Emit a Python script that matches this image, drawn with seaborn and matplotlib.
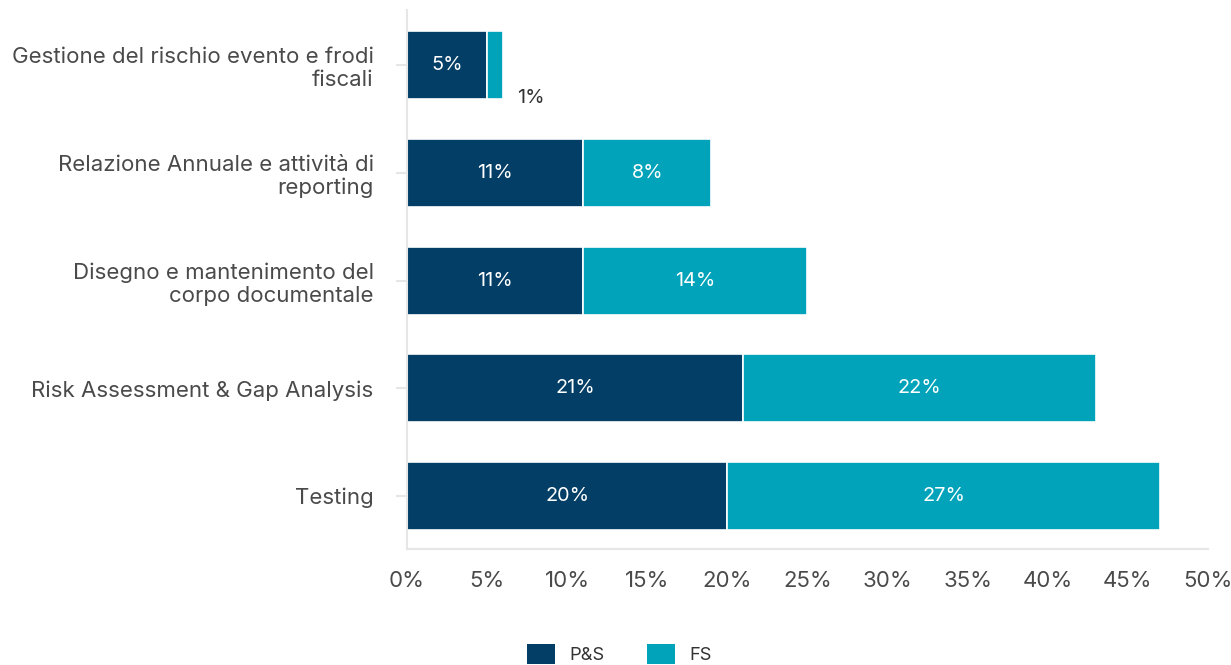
import matplotlib
matplotlib.use("Agg")
import matplotlib.pyplot as plt
from matplotlib.patches import Patch
import seaborn as sns
import pandas as pd

# Categories (top to bottom) and the two stacked series, in percent
categories = [
    "Gestione del rischio evento e frodi\nfiscali",
    "Relazione Annuale e attività di\nreporting",
    "Disegno e mantenimento del\ncorpo documentale",
    "Risk Assessment & Gap Analysis",
    "Testing",
]
ps_values = [5, 11, 11, 21, 20]
fs_values = [1, 8, 14, 22, 27]
series_names = ["P&S", "FS"]
x_ticks = [0, 5, 10, 15, 20, 25, 30, 35, 40, 45, 50]

colors = {"P&S": "#033E66", "FS": "#00A3B9"}

sns.set_theme(style="white")
plt.rcParams["font.family"] = ["Inter", "DejaVu Sans"]

df = pd.DataFrame({"category": categories, "P&S": ps_values, "FS": fs_values})

fig = plt.figure(figsize=(12.31, 6.65), dpi=100)
ax = fig.add_axes([0.3306, 0.1744, 0.6507, 0.8106])

sns.barplot(data=df, x="P&S", y="category", orient="h", color=colors["P&S"],
            saturation=1, width=0.63, edgecolor="white", linewidth=1.2, ax=ax)
sns.barplot(data=df, x="FS", y="category", orient="h", color=colors["FS"],
            saturation=1, width=0.63, edgecolor="white", linewidth=1.2,
            left=df["P&S"].values, ax=ax)

# Value labels: inside the segment when it is wide enough, else just outside
for container, vals in zip(ax.containers, [ps_values, fs_values]):
    for rect, v in zip(container, vals):
        x0 = rect.get_x()
        w = rect.get_width()
        yc = rect.get_y() + rect.get_height() / 2
        if v >= 3:
            ax.text(x0 + w / 2, yc, f"{v}%", ha="center", va="center",
                    color="white", fontsize=14.3)
        else:
            ax.annotate(f"{v}%", xy=(x0 + w, yc), xytext=(10, -24),
                        textcoords="offset points", ha="left", va="center",
                        color="#333333", fontsize=14.3)

ax.set_xlim(0, 50)
ax.set_ylim(4.49, -0.51)
ax.set_xticks(x_ticks)
ax.set_xticklabels([f"{t}%" for t in x_ticks])
ax.set_xlabel("")
ax.set_ylabel("")

for side in ["top", "right"]:
    ax.spines[side].set_visible(False)
for side in ["left", "bottom"]:
    ax.spines[side].set_color("#E6E6E6")
    ax.spines[side].set_linewidth(1.5)

ax.tick_params(axis="x", length=0, pad=16, labelsize=16, labelcolor="#4A4A4A")
ax.tick_params(axis="y", left=True, length=8, width=1.5, color="#E6E6E6",
               pad=16, labelsize=16, labelcolor="#4A4A4A")
for lab in ax.get_yticklabels():
    lab.set_multialignment("right")

handles = [Patch(facecolor=colors[n], edgecolor="none", label=n) for n in series_names]
fig.legend(handles=handles, loc="center", bbox_to_anchor=(0.503, 0.016), ncol=2,
           frameon=False, fontsize=13.2, handlelength=1.53, handleheight=1.31,
           handletextpad=0.8, columnspacing=2.3, labelcolor="#333333")

fig.savefig("out.png", dpi=100)
